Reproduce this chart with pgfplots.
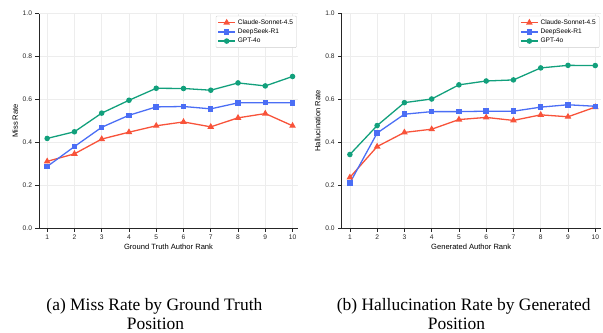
\documentclass[border=0pt]{standalone}
\usepackage{fontspec}
\setmainfont{Liberation Sans}
\newfontfamily\capfont{Liberation Serif}
\usepackage{pgfplots}
\pgfplotsset{compat=1.18}
\definecolor{cclaude}{HTML}{F8533A}
\definecolor{cdeep}{HTML}{4B6EF5}
\definecolor{cgpt}{HTML}{12A07C}
\pgfplotsset{myax/.style={
  scale only axis, width=259bp, height=214.3bp,
  xmin=0.7, xmax=10.2, ymin=0, ymax=1,
  axis lines*=left,
  axis line style={black!85, line width=0.8pt},
  xtick={1,...,10}, ytick={0,0.2,0.4,0.6,0.8,1.0},
  yticklabel style={/pgf/number format/.cd, fixed, fixed zerofill, precision=1},
  /pgf/number format/assume math mode=true,
  tick align=outside, major tick length=3.5bp,
  tick style={black!85, line width=0.6pt},
  grid=major, grid style={black!7, line width=0.6pt},
  ticklabel style={font=\fontsize{6.7}{7.5}\selectfont, text=black!85},
  label style={font=\fontsize{7.6}{8.5}\selectfont},
  xlabel style={yshift=3bp},
  ylabel style={yshift=-2bp},
  legend cell align=left,
  legend style={at={(0.995,0.99)}, anchor=north east, font=\fontsize{6.6}{7.8}\selectfont,
    draw=black!20, rounded corners=1pt, inner sep=1.5pt, row sep=-1pt},
  every axis plot/.append style={line width=1.3pt},
}}
\begin{document}
\begin{tikzpicture}
\useasboundingbox (-39bp,-105bp) rectangle (564bp,228bp);
\begin{axis}[myax, at={(0bp,0bp)}, anchor=south west,
  xlabel={Ground Truth Author Rank}, ylabel={Miss Rate}]
\addplot[color=cclaude, mark=triangle*, mark size=2.6pt] coordinates {
 (1,0.311) (2,0.346) (3,0.415) (4,0.447) (5,0.477) (6,0.495) (7,0.472) (8,0.514) (9,0.534) (10,0.477)};
\addlegendentry{Claude-Sonnet-4.5}
\addplot[color=cdeep, mark=square*, mark size=2.1pt] coordinates {
 (1,0.287) (2,0.380) (3,0.470) (4,0.526) (5,0.565) (6,0.567) (7,0.556) (8,0.584) (9,0.585) (10,0.584)};
\addlegendentry{DeepSeek-R1}
\addplot[color=cgpt, mark=*, mark size=2.1pt] coordinates {
 (1,0.418) (2,0.449) (3,0.536) (4,0.596) (5,0.652) (6,0.651) (7,0.643) (8,0.677) (9,0.663) (10,0.707)};
\addlegendentry{GPT-4o}
\end{axis}
\begin{axis}[myax, at={(302.7bp,0bp)}, anchor=south west,
  xlabel={Generated Author Rank}, ylabel={Hallucination Rate}]
\addplot[color=cclaude, mark=triangle*, mark size=2.6pt] coordinates {
 (1,0.236) (2,0.380) (3,0.446) (4,0.461) (5,0.506) (6,0.516) (7,0.502) (8,0.528) (9,0.519) (10,0.564)};
\addlegendentry{Claude-Sonnet-4.5}
\addplot[color=cdeep, mark=square*, mark size=2.1pt] coordinates {
 (1,0.210) (2,0.443) (3,0.531) (4,0.543) (5,0.543) (6,0.545) (7,0.545) (8,0.564) (9,0.575) (10,0.568)};
\addlegendentry{DeepSeek-R1}
\addplot[color=cgpt, mark=*, mark size=2.1pt] coordinates {
 (1,0.343) (2,0.478) (3,0.585) (4,0.602) (5,0.668) (6,0.686) (7,0.691) (8,0.747) (9,0.759) (10,0.758)};
\addlegendentry{GPT-4o}
\end{axis}
\node[anchor=base, font=\capfont\fontsize{17.5}{20}\selectfont, inner sep=0] at (115.4bp,-82bp) {(a) Miss Rate by Ground Truth};
\node[anchor=base, font=\capfont\fontsize{17.5}{20}\selectfont, inner sep=0] at (116.5bp,-101.5bp) {Position};
\node[anchor=base, font=\capfont\fontsize{17.5}{20}\selectfont, inner sep=0] at (424.7bp,-82bp) {(b) Hallucination Rate by Generated};
\node[anchor=base, font=\capfont\fontsize{17.5}{20}\selectfont, inner sep=0] at (417.5bp,-101.5bp) {Position};
\end{tikzpicture}
\end{document}
